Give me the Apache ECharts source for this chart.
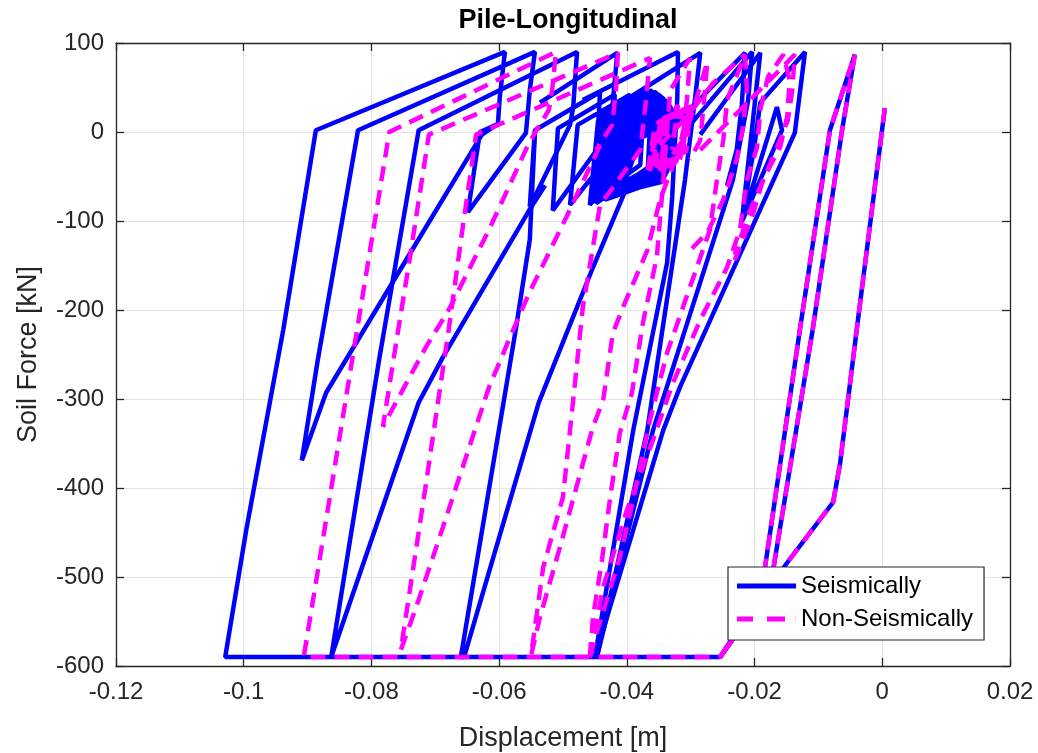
<!DOCTYPE html>
<html>
<head>
<meta charset="utf-8">
<script src="https://cdn.jsdelivr.net/npm/echarts@6/dist/echarts.min.js"></script>
<style>
html,body{margin:0;padding:0;background:#fff;}
#chart{width:1038px;height:753px;}
</style>
</head>
<body>
<div id="chart"></div>
<script>
// ---- Seismically (solid blue) : [displacement m, soil force kN] ----
const seisOuter = [[0.0004,27],[-0.0040,-222],[-0.0066,-372],[-0.0077,-416],[-0.0149,-484],[-0.0254,-590],[-0.1029,-590],[-0.0996,-447],[-0.0938,-222],[-0.0887,2],[-0.0591,90],[-0.0599,39],[-0.0602,9],[-0.0627,-3],[-0.0724,-118],[-0.0871,-293],[-0.0909,-369],[-0.0884,-256],[-0.0821,2],[-0.0544,90],[-0.0552,47],[-0.0558,-1],[-0.0649,-90],[-0.0630,0],[-0.0602,9]];
const seisLoop3 = [[-0.0528,-60],[-0.0553,-88],[-0.0688,-253],[-0.0726,-304],[-0.0863,-590],[-0.0788,-256],[-0.0726,2],[-0.0478,90],[-0.0484,28],[-0.0489,8],[-0.0552,-84]];
const seisLoop4 = [[-0.0400,-62],[-0.0453,-152],[-0.0505,-245],[-0.0538,-304],[-0.0655,-590],[-0.0660,-590],[-0.0574,-222],[-0.0552,-121],[-0.0544,-1]];
const seisTop1 = [[-0.0536,33],[-0.0415,89],[-0.0423,25],[-0.0442,-9]];
const seisFan1 = [[-0.0450,-590],[-0.0390,-335],[-0.0337,-147],[-0.0329,-73],[-0.0321,39],[-0.0320,90],[-0.0469,36]];
const seisFan2 = [[-0.0447,-590],[-0.0368,-335],[-0.0309,-54],[-0.0293,39],[-0.0285,89],[-0.0426,25]];
const seisFan3 = [[-0.0447,-590],[-0.0359,-335],[-0.0234,-54],[-0.0210,36],[-0.0204,90],[-0.0301,8]];
const seisFan4 = [[-0.0450,-590],[-0.0343,-335],[-0.0317,-287],[-0.0137,-1],[-0.0121,90],[-0.0191,33],[-0.0199,-9],[-0.0220,-101],[-0.0165,28],[-0.0157,2],[-0.0220,-101],[-0.0191,89],[-0.0285,-3]];
const seisPeak = [[-0.0348,-9],[-0.0215,89],[-0.0220,30],[-0.0228,-20],[-0.0243,-60]];
const seisRight = [[-0.0254,-590],[-0.0190,-520],[-0.0129,-222],[-0.0082,2],[-0.0043,87],[-0.0063,2],[-0.0109,-222],[-0.0175,-510],[-0.0254,-590]];
const seisCluster = [[-0.0552,-84],[-0.0544,2],[-0.0442,45],[-0.0447,-20],
 [-0.0516,-88],[-0.0508,4],[-0.0419,42],[-0.0423,-22],
 [-0.0489,-82],[-0.0477,8],[-0.0395,42],[-0.0403,-31],
 [-0.0458,-82],[-0.0445,13],[-0.0372,45],[-0.0379,-37],
 [-0.0453,-76],[-0.0439,19],[-0.0361,47],[-0.0367,-40],
 [-0.0448,-80],[-0.0434,22],[-0.0354,45],[-0.0361,-45],
 [-0.0445,-74],[-0.0430,19],[-0.0348,42],[-0.0356,-48],
 [-0.0442,-76],[-0.0425,22],[-0.0343,39],[-0.0353,-52],
 [-0.0439,-72],[-0.0420,18],[-0.0339,36],[-0.0348,-54],
 [-0.0434,-76],[-0.0415,16],[-0.0336,34],[-0.0345,-56],
 [-0.0431,-71],[-0.0411,13],[-0.0332,30],[-0.0342,-52],
 [-0.0426,-74],[-0.0406,11],[-0.0329,27],[-0.0340,-49],
 [-0.0423,-67],[-0.0401,8],[-0.0326,25],[-0.0337,-45],
 [-0.0419,-71],[-0.0397,6],[-0.0323,22],[-0.0336,-43],
 [-0.0414,-65],[-0.0392,2],[-0.0329,19],[-0.0340,-40],
 [-0.0411,-63],[-0.0387,0],[-0.0332,16],[-0.0345,-37],
 [-0.0408,-60],[-0.0383,-3],[-0.0336,13],[-0.0348,-34],
 [-0.0403,-56],[-0.0379,-7],[-0.0340,8],[-0.0353,-29]];

// ---- Non-Seismically (dashed magenta) ----
const nonOuter = [[0.0004,27],[-0.0040,-222],[-0.0066,-372],[-0.0077,-416],[-0.0149,-484],[-0.0254,-590],[-0.0906,-590],[-0.0772,0],[-0.0511,90],[-0.0517,47],[-0.0522,25],[-0.0553,-12],[-0.0616,-110],[-0.0679,-200],[-0.0715,-242],[-0.0782,-331],[-0.0758,-222],[-0.0741,-147],[-0.0710,-3],[-0.0414,89],[-0.0417,47],[-0.0423,8],[-0.0448,-20]];
const nonMid = [[-0.0442,-15],[-0.0495,-96],[-0.0553,-181],[-0.0585,-234],[-0.0616,-287],[-0.0688,-444],[-0.0730,-534],[-0.0754,-582],[-0.0716,-402],[-0.0679,-222],[-0.0657,-107],[-0.0636,-3],[-0.0364,83],[-0.0370,36],[-0.0379,-20],[-0.0442,-82],[-0.0469,-197],[-0.0484,-301],[-0.0500,-410],[-0.0531,-489],[-0.0550,-588],[-0.0536,-545],[-0.0505,-467],[-0.0453,-331],[-0.0437,-301],[-0.0422,-226],[-0.0406,-197],[-0.0368,-133],[-0.0348,-76],[-0.0301,13],[-0.0274,79],[-0.0279,36],[-0.0285,-9],[-0.0301,-31]];
const nonFan1 = [[-0.0458,-590],[-0.0453,-545],[-0.0439,-481],[-0.0426,-410],[-0.0411,-338],[-0.0392,-293],[-0.0375,-215],[-0.0353,-140],[-0.0343,-54],[-0.0337,2],[-0.0332,47],[-0.0301,83],[-0.0306,36],[-0.0312,-9],[-0.0340,-37]];
const nonFan2 = [[-0.0458,-590],[-0.0447,-562],[-0.0411,-478],[-0.0390,-413],[-0.0364,-324],[-0.0337,-248],[-0.0301,-174],[-0.0270,-110],[-0.0259,-54],[-0.0249,-9],[-0.0243,36],[-0.0215,87],[-0.0212,47],[-0.0218,6],[-0.0228,-31],[-0.0249,-76],[-0.0274,-113],[-0.0301,-133]];
const nonFan3 = [[-0.0458,-590],[-0.0437,-511],[-0.0400,-425],[-0.0359,-346],[-0.0328,-282],[-0.0285,-211],[-0.0243,-152],[-0.0223,-110],[-0.0212,-54],[-0.0196,-17],[-0.0191,25],[-0.0179,62],[-0.0155,87],[-0.0145,58],[-0.0149,17],[-0.0160,-17],[-0.0187,-54],[-0.0202,-91],[-0.0231,-144]];
const nonTop1 = [[-0.0348,-15],[-0.0306,17],[-0.0265,55],[-0.0215,87]];
const nonTop2 = [[-0.0285,-20],[-0.0207,36],[-0.0137,87],[-0.0141,47],[-0.0148,13],[-0.0176,-37],[-0.0207,-88],[-0.0231,-138]];
const nonRight = [[-0.0254,-590],[-0.0190,-520],[-0.0129,-222],[-0.0082,2],[-0.0043,87],[-0.0063,2],[-0.0109,-222],[-0.0175,-510],[-0.0254,-590]];
const nonCluster = [[-0.0367,-43],[-0.0356,8],[-0.0304,28],[-0.0311,-20],[-0.0364,-45],[-0.0351,11],[-0.0301,25],[-0.0307,-22],[-0.0361,-40],[-0.0347,13],[-0.0304,22],[-0.0314,-27],[-0.0356,-38],[-0.0342,16],[-0.0298,29],[-0.0317,-31],[-0.0348,-43],[-0.0336,19],[-0.0307,16],[-0.0323,-34],[-0.0364,-31],[-0.0354,-3],[-0.0320,30],[-0.0329,-20]];

const seisParts = [seisOuter, seisLoop3, seisLoop4, seisTop1, seisFan1, seisFan2, seisFan3, seisFan4, seisPeak, seisRight, seisCluster];
const nonParts = [nonOuter, nonMid, nonFan1, nonFan2, nonFan3, nonTop1, nonTop2, nonRight, nonCluster];

const FONT = '"Liberation Sans", Arial, Helvetica, sans-serif';
const AX = '#262626';

const series = [];
seisParts.forEach(d => series.push({
  name: 'Seismically', type: 'line', data: d, symbol: 'none', showSymbol: false,
  lineStyle: {color: '#0000ff', width: 4.5, type: 'solid'}, itemStyle: {color: '#0000ff'},
  z: 2, silent: true
}));
nonParts.forEach(d => series.push({
  name: 'Non-Seismically', type: 'line', data: d, symbol: 'none', showSymbol: false,
  lineStyle: {color: '#ff00ff', width: 4.5, type: [15, 9]}, itemStyle: {color: '#ff00ff'},
  z: 3, silent: true
}));

const chart = echarts.init(document.getElementById('chart'), null, {renderer: 'canvas'});
chart.setOption({
  animation: false,
  backgroundColor: '#fff',
  title: {
    text: 'Pile-Longitudinal', left: 563, top: 2, textAlign: 'center',
    textStyle: {fontFamily: FONT, fontSize: 27, fontWeight: 'bold', color: '#000'}
  },
  grid: {left: 116, right: 28, top: 43, bottom: 87, containLabel: false, outerBoundsMode: 'none'},
  legend: {
    data: [
      {name: 'Seismically', icon: 'rect'},
      {name: 'Non-Seismically', icon: 'path://M0,0h16v5h-16z M30,0h18v5h-18z M58.8,0h0.2v5h-0.2z'}
    ],
    orient: 'vertical', left: 728, top: 567,
    itemWidth: 59, itemHeight: 5, itemGap: 7,
    padding: [6, 11, 8, 9],
    backgroundColor: '#fff', borderColor: AX, borderWidth: 1.2,
    selectedMode: false,
    textStyle: {fontFamily: FONT, fontSize: 24, color: '#000', lineHeight: 26}
  },
  xAxis: [{
    type: 'value', min: -0.12, max: 0.02, interval: 0.02,
    name: 'Displacement [m]', nameLocation: 'middle', nameGap: 59,
    nameTextStyle: {fontFamily: FONT, fontSize: 27, color: AX},
    axisLine: {show: true, onZero: false, lineStyle: {color: AX, width: 1.3}},
    axisTick: {show: true, inside: true, length: 8, lineStyle: {color: AX, width: 1.3}},
    axisLabel: {fontFamily: FONT, fontSize: 24, color: AX, margin: 14},
    splitLine: {show: true, lineStyle: {color: '#e2e2e2', width: 1}}
  }, {
    type: 'value', position: 'top', min: -0.12, max: 0.02, interval: 0.02,
    axisLine: {show: true, onZero: false, lineStyle: {color: AX, width: 1.3}},
    axisTick: {show: true, inside: true, length: 8, lineStyle: {color: AX, width: 1.3}},
    axisLabel: {show: false}, splitLine: {show: false}
  }],
  yAxis: [{
    type: 'value', min: -600, max: 100, interval: 100,
    name: 'Soil Force [kN]', nameLocation: 'middle', nameGap: 74,
    nameTextStyle: {fontFamily: FONT, fontSize: 27, color: AX},
    axisLine: {show: true, onZero: false, lineStyle: {color: AX, width: 1.3}},
    axisTick: {show: true, inside: true, length: 8, lineStyle: {color: AX, width: 1.3}},
    axisLabel: {fontFamily: FONT, fontSize: 24, color: AX, margin: 12},
    splitLine: {show: true, lineStyle: {color: '#e2e2e2', width: 1}}
  }, {
    type: 'value', position: 'right', min: -600, max: 100, interval: 100,
    axisLine: {show: true, onZero: false, lineStyle: {color: AX, width: 1.3}},
    axisTick: {show: true, inside: true, length: 8, lineStyle: {color: AX, width: 1.3}},
    axisLabel: {show: false}, splitLine: {show: false}
  }],
  series: series
});
</script>
</body>
</html>
